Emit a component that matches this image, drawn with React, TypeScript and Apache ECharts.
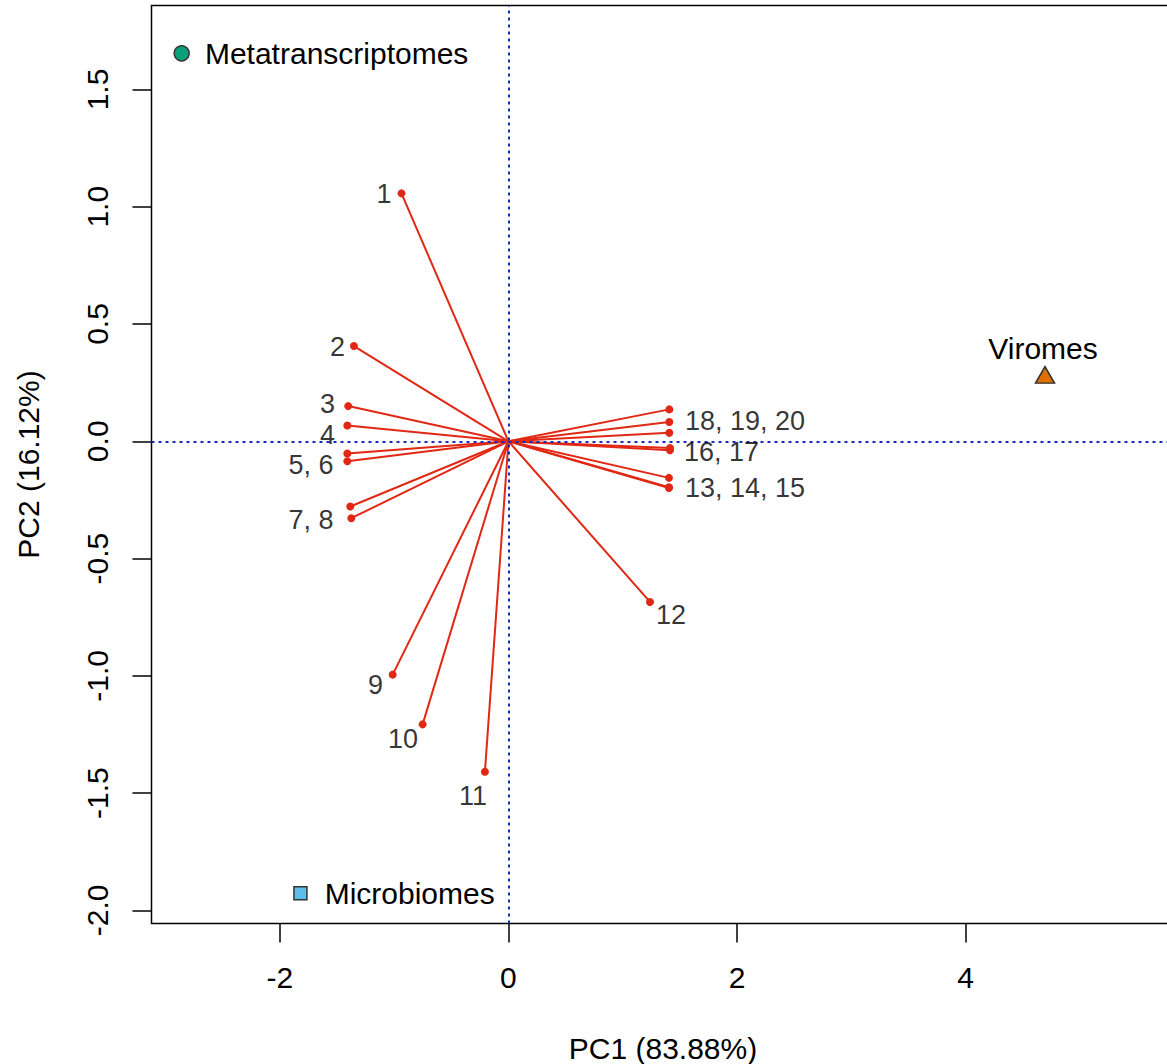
import React, { useEffect, useRef } from "react";
import * as echarts from "echarts";

// ---- data ----
const vectorNames = ["1","2","3","4","5","6","7","8","9","10","11","12","13","14","15","16","17","18","19","20"];
const vectorX = [-0.936, -1.352, -1.402, -1.410, -1.410, -1.410, -1.384, -1.375, -1.013, -0.751, -0.206, 1.238, 1.404, 1.404, 1.404, 1.413, 1.413, 1.407, 1.407, 1.407];
const vectorY = [1.057, 0.406, 0.150, 0.067, -0.052, -0.085, -0.278, -0.328, -0.995, -1.207, -1.409, -0.685, -0.156, -0.196, -0.199, -0.029, -0.038, 0.136, 0.082, 0.036];

const labelTexts = ["1","2","3","4","5, 6","7, 8","9","10","11","12","18, 19, 20","16, 17","13, 14, 15"];
const labelX = [-1.089, -1.496, -1.584, -1.584, -1.728, -1.728, -1.164, -0.923, -0.311, 1.422, 2.069, 1.864, 2.069];
const labelY = [1.053, 0.400, 0.157, 0.025, -0.103, -0.334, -1.038, -1.271, -1.512, -0.739, 0.085, -0.044, -0.201];

const sampleNames = ["Metatranscriptomes", "Microbiomes", "Viromes"];
const sampleX = [-2.859, -1.820, 4.694];
const sampleY = [1.654, -1.927, 0.283];

const xTicks = [-2, 0, 2, 4];
const yTicks = [-2, -1.5, -1, -0.5, 0, 0.5, 1, 1.5];

const xTitle = "PC1 (83.88%)";
const yTitle = "PC2 (16.12%)";

// ---- styles ----
const FONT = '"Liberation Sans", Arial, Helvetica, sans-serif';
const RED = "#E02814";
const BLUE = "#1c2db5";
const sampleStyles = [
  { symbol: "circle", size: 15, color: "#0BA07C", pos: "right", dist: 15, off: [0, 0] },
  { symbol: "rect", size: 13, color: "#5DBDEA", pos: "right", dist: 17, off: [0, 0] },
  { symbol: "triangle", size: [19, 16.5], color: "#E07000", pos: "top", dist: 2, off: [-2, 0] },
];

export default function App() {
  const ref = useRef<HTMLDivElement>(null);
  useEffect(() => {
    document.body.style.margin = "0";
    const chart = echarts.init(ref.current!, null, { renderer: "svg" });
    const axisText = { fontSize: 30, color: "#000", fontFamily: FONT };
    const labelText = { color: "#000", fontFamily: FONT, textBorderWidth: 0, textShadowBlur: 0 };
    const option: any = {
      animation: false,
      backgroundColor: "#fff",
      textStyle: { fontFamily: FONT },
      grid: {
        left: 151.5, top: 5.5, width: 1023, height: 918,
        outerBoundsMode: "none", containLabel: false,
        show: true, borderColor: "#000", borderWidth: 1.5, backgroundColor: "transparent",
      },
      xAxis: {
        type: "value", min: -3.123, max: 5.827,
        splitLine: { show: false },
        axisLine: { show: false, onZero: false },
        axisTick: { show: true, inside: false, length: 19, lineStyle: { color: "#000", width: 1.5 }, customValues: xTicks },
        axisLabel: { show: true, customValues: xTicks, margin: 39, ...axisText, formatter: (v: number) => String(v) },
        name: xTitle, nameLocation: "middle", nameGap: 110, nameTextStyle: axisText,
      },
      yAxis: {
        type: "value", min: -2.056, max: 1.858,
        splitLine: { show: false },
        axisLine: { show: false, onZero: false },
        axisTick: { show: true, inside: false, length: 19, lineStyle: { color: "#000", width: 1.5 }, customValues: yTicks },
        axisLabel: { show: true, customValues: yTicks, margin: 39, rotate: 90, ...axisText, formatter: (v: number) => v.toFixed(1) },
        name: yTitle, nameLocation: "middle", nameGap: 108.5, nameRotate: 90, nameTextStyle: axisText,
      },
      series: [
        {
          type: "lines",
          coordinateSystem: "cartesian2d",
          z: 2,
          lineStyle: { color: RED, width: 2, opacity: 1 },
          data: vectorX.map((x, i) => ({ name: vectorNames[i], coords: [[0, 0], [x, vectorY[i]]] })),
        },
        {
          type: "scatter",
          z: 3,
          symbol: "circle",
          symbolSize: 8,
          itemStyle: { color: RED, opacity: 1 },
          data: vectorX.map((x, i) => ({ name: vectorNames[i], value: [x, vectorY[i]] })),
        },
        {
          type: "line",
          z: 4,
          data: [],
          markLine: {
            silent: true,
            symbol: ["none", "none"],
            label: { show: false },
            lineStyle: { color: BLUE, type: [3, 4], width: 2 },
            data: [{ xAxis: 0 }, { yAxis: 0 }],
          },
        },
        {
          type: "scatter",
          z: 5,
          symbol: "circle",
          symbolSize: 1,
          itemStyle: { color: "transparent" },
          label: { show: true, position: "inside", formatter: "{b}", fontSize: 27, ...labelText },
          data: labelTexts.map((t, i) => ({ name: t, value: [labelX[i], labelY[i]] })),
        },
        {
          type: "scatter",
          z: 6,
          data: sampleNames.map((n, i) => ({
            name: n,
            value: [sampleX[i], sampleY[i]],
            symbol: sampleStyles[i].symbol,
            symbolSize: sampleStyles[i].size,
            itemStyle: { color: sampleStyles[i].color, borderColor: "#333", borderWidth: 1.5, opacity: 1 },
            label: {
              show: true, formatter: "{b}", position: sampleStyles[i].pos, distance: sampleStyles[i].dist,
              offset: sampleStyles[i].off, fontSize: 30, ...labelText,
            },
          })),
        },
      ],
    };
    chart.setOption(option);
    return () => chart.dispose();
  }, []);
  return <div ref={ref} style={{ position: "absolute", left: 0, top: 0, width: 1167, height: 1064 }} />;
}
